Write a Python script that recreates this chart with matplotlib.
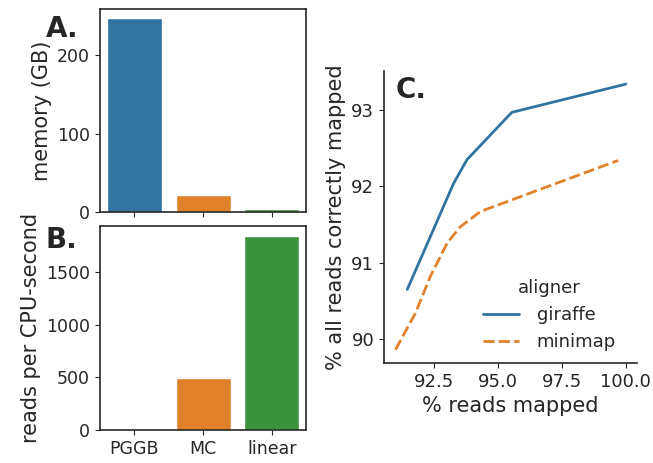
import numpy as np
import pandas as pd
import matplotlib
matplotlib.use("Agg")
import matplotlib.pyplot as plt
import seaborn as sns

# data
graphs = ["PGGB", "MC", "linear"]
memory_gb = [247, 22, 4]
reads_per_cpu_s = [0, 495, 1843]

giraffe_mapped = [91.47, 93.28, 93.8, 95.55, 100.0]
giraffe_correct = [90.65, 92.04, 92.35, 92.97, 93.34]
minimap_mapped = [91.01, 91.79, 92.37, 93.03, 93.54, 94.32, 99.7]
minimap_correct = [89.86, 90.34, 90.82, 91.26, 91.47, 91.67, 92.34]

sns.set_style("ticks")
plt.rcParams["font.family"] = ["DejaVu Sans"]

fig = plt.figure(figsize=(6.53, 4.63), dpi=100)
axA = fig.add_axes([0.153, 0.542, 0.316, 0.439])
axB = fig.add_axes([0.153, 0.071, 0.316, 0.441])
axC = fig.add_axes([0.588, 0.216, 0.388, 0.631])

pal = sns.color_palette()
muted = sns.color_palette(pal, desat=0.75)

# A. memory
sns.barplot(x=graphs, y=memory_gb, hue=graphs, palette=pal[:3], ax=axA,
            saturation=0.75, legend=False)
axA.set_ylabel("memory (GB)", fontsize=15)
axA.set_xticklabels([])
axA.set_yticks([0, 100, 200])
axA.tick_params(labelsize=12.5)

# B. speed
sns.barplot(x=graphs, y=reads_per_cpu_s, hue=graphs, palette=pal[:3], ax=axB,
            saturation=0.75, legend=False)
axB.set_ylabel("reads per CPU-second", fontsize=15)
axB.set_yticks([0, 500, 1000, 1500])
axB.tick_params(labelsize=12.5)

# C. accuracy
df = pd.concat([
    pd.DataFrame({"mapped": giraffe_mapped, "correct": giraffe_correct, "aligner": "giraffe"}),
    pd.DataFrame({"mapped": minimap_mapped, "correct": minimap_correct, "aligner": "minimap"}),
])
sns.lineplot(data=df, x="mapped", y="correct", hue="aligner", style="aligner",
             palette=muted[:2], ax=axC, linewidth=2)
sns.despine(ax=axC)
axC.set_xlabel("% reads mapped", fontsize=15)
axC.set_ylabel("% all reads correctly mapped", fontsize=15)
axC.set_xticks([92.5, 95.0, 97.5, 100.0])
axC.set_yticks([90, 91, 92, 93])
axC.tick_params(labelsize=13)
leg = axC.legend(title="aligner", frameon=False, loc="lower right",
                 bbox_to_anchor=(0.98, -0.015), fontsize=13, title_fontsize=13,
                 handletextpad=1.0)

for ax in (axA, axB, axC):
    for sp in ax.spines.values():
        sp.set_linewidth(1.2)

fig.text(0.070, 0.968, "A.", fontsize=20, fontweight="bold", va="top")
fig.text(0.070, 0.512, "B.", fontsize=20, fontweight="bold", va="top")
fig.text(0.606, 0.836, "C.", fontsize=20, fontweight="bold", va="top")

fig.savefig("out.png", dpi=100)
